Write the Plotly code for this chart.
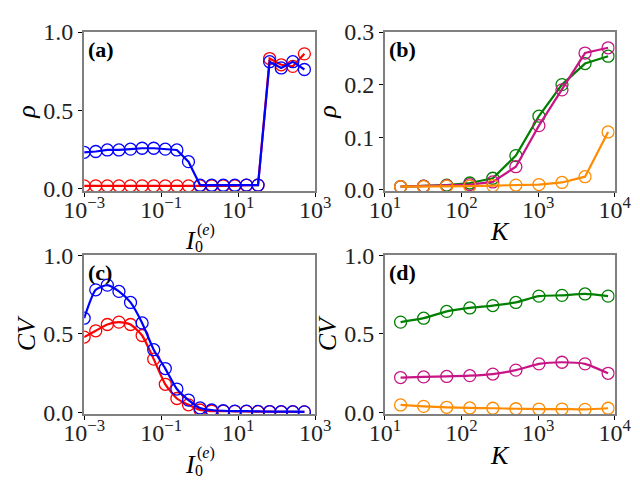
import plotly.graph_objects as go

# --- data ---
# panels (a) and (c): input current, 20 points doubling from 1e-3
I0 = [0.001, 0.002, 0.004, 0.008, 0.016, 0.032, 0.064, 0.128, 0.256, 0.512,
      1.024, 2.048, 4.096, 8.192, 16.384, 32.768, 65.536, 131.072, 262.144, 524.288]

rho_red = [0.015, 0.015, 0.015, 0.015, 0.015, 0.015, 0.015, 0.015, 0.015, 0.015,
           0.015, 0.015, 0.015, 0.015, 0.02, 0.02, 0.83, 0.79, 0.78, 0.86]
rho_blue = [0.23, 0.235, 0.245, 0.245, 0.25, 0.256, 0.256, 0.25, 0.245, 0.17,
            0.02, 0.02, 0.02, 0.02, 0.02, 0.02, 0.81, 0.77, 0.81, 0.76]

cv_red = [0.48, 0.52, 0.56, 0.575, 0.56, 0.49, 0.34, 0.18, 0.09, 0.05,
          0.017, 0.01, 0.01, 0.008, 0.008, 0.006, 0.006, 0.005, 0.005, 0.005]
cv_blue = [0.60, 0.78, 0.81, 0.77, 0.70, 0.57, 0.40, 0.28, 0.15, 0.08,
           0.03, 0.017, 0.012, 0.01, 0.01, 0.008, 0.007, 0.006, 0.006, 0.005]

# panels (b) and (d): K
K = [16, 32, 64, 128, 256, 512, 1024, 2048, 4096, 8192]

rho_green = [0.006, 0.007, 0.009, 0.013, 0.022, 0.065, 0.14, 0.2, 0.24, 0.254]
rho_magenta = [0.006, 0.007, 0.008, 0.01, 0.015, 0.044, 0.122, 0.19, 0.26, 0.27]
rho_orange = [0.006, 0.006, 0.007, 0.007, 0.008, 0.009, 0.01, 0.014, 0.025, 0.11]

cv_green = [0.575, 0.60, 0.643, 0.665, 0.68, 0.70, 0.74, 0.745, 0.754, 0.74]
cv_magenta = [0.223, 0.227, 0.23, 0.235, 0.245, 0.27, 0.31, 0.32, 0.31, 0.25]
cv_orange = [0.049, 0.04, 0.034, 0.03, 0.028, 0.025, 0.023, 0.023, 0.021, 0.028]

RED, BLUE = "#ff0000", "#0000ff"
GREEN, MAGENTA, ORANGE = "#008000", "#c71585", "#ff8c00"
FONT = "Liberation Serif"

fig = go.Figure()


def add(x, y, color, xa, ya, shape="linear"):
    fig.add_trace(go.Scatter(
        x=x, y=y, xaxis=xa, yaxis=ya, mode="lines+markers",
        line=dict(color=color, width=2.2, shape=shape, smoothing=0.6),
        marker=dict(symbol="circle-open", size=12, color=color, line=dict(width=1.3)),
        showlegend=False))


add(I0, rho_red, RED, "x", "y")
add(I0, rho_blue, BLUE, "x", "y")
add(K, rho_green, GREEN, "x2", "y2")
add(K, rho_magenta, MAGENTA, "x2", "y2")
add(K, rho_orange, ORANGE, "x2", "y2")
add(I0, cv_red, RED, "x3", "y3", "spline")
add(I0, cv_blue, BLUE, "x3", "y3", "spline")
add(K, cv_green, GREEN, "x4", "y4", "spline")
add(K, cv_magenta, MAGENTA, "x4", "y4", "spline")
add(K, cv_orange, ORANGE, "x4", "y4", "spline")

axis_common = dict(showline=True, mirror=True, linecolor="#808080", linewidth=2,
                   ticks="outside", tickcolor="black", ticklen=4, tickwidth=1,
                   showgrid=False, zeroline=False,
                   tickfont=dict(family=FONT, size=24, color="#222"),
                   automargin=False)
xaxis_common = dict(axis_common, type="log", ticklabelstandoff=-8)

I_ticks = [1e-3, 1e-1, 1e1, 1e3]
I_text = ["10<sup>−3</sup>", "10<sup>−1</sup>", "10<sup>1</sup>", "10<sup>3</sup>"]
K_ticks = [1e1, 1e2, 1e3, 1e4]
K_text = ["10<sup>1</sup>", "10<sup>2</sup>", "10<sup>3</sup>", "10<sup>4</sup>"]

xdom_l, xdom_r = [0.119, 0.480], [0.589, 0.948]
ydom_t, ydom_b = [0.619, 0.95], [0.154, 0.485]

title_font = dict(family=FONT, size=26, color="black")

fig.update_layout(
    width=640, height=480, margin=dict(l=0, r=0, t=0, b=0),
    paper_bgcolor="white", plot_bgcolor="white",
    xaxis=dict(xaxis_common, range=[-3, 3], domain=xdom_l, anchor="y",
               tickvals=I_ticks, ticktext=I_text),
    yaxis=dict(axis_common, range=[-0.017, 1.0], domain=ydom_t, anchor="x",
               tickvals=[0, 0.5, 1.0], ticktext=["0.0", "0.5", "1.0"],
               title=dict(text="<i>ρ</i>", font=title_font, standoff=0)),
    xaxis2=dict(xaxis_common, range=[1, 4], domain=xdom_r, anchor="y2",
                tickvals=K_ticks, ticktext=K_text),
    yaxis2=dict(axis_common, range=[-0.002, 0.3], domain=ydom_t, anchor="x2",
                tickvals=[0, 0.1, 0.2, 0.3], ticktext=["0.0", "0.1", "0.2", "0.3"],
                title=dict(text="<i>ρ</i>", font=title_font, standoff=0)),
    xaxis3=dict(xaxis_common, range=[-3, 3], domain=xdom_l, anchor="y3",
                tickvals=I_ticks, ticktext=I_text),
    yaxis3=dict(axis_common, range=[-0.009, 1.0], domain=ydom_b, anchor="x3",
                tickvals=[0, 0.5, 1.0], ticktext=["0.0", "0.5", "1.0"],
                title=dict(text="<i>CV</i>", font=title_font, standoff=0)),
    xaxis4=dict(xaxis_common, range=[1, 4], domain=xdom_r, anchor="y4",
                tickvals=K_ticks, ticktext=K_text),
    yaxis4=dict(axis_common, range=[-0.009, 1.0], domain=ydom_b, anchor="x4",
                tickvals=[0, 0.5, 1.0], ticktext=["0.0", "0.5", "1.0"],
                title=dict(text="<i>CV</i>", font=title_font, standoff=0)),
)


def note(text, xa, ya, dx, dy, size, x=0.5, y=0.0, xanchor="center", yanchor="middle"):
    fig.add_annotation(text=text, xref=xa + " domain", yref=ya + " domain",
                       x=x, y=y, xshift=dx, yshift=dy, xanchor=xanchor, yanchor=yanchor,
                       showarrow=False, font=dict(family=FONT, size=size, color="black"))


# x-axis titles (I_0^(e) built with the sub/superscript stacked like the original)
for xa, ya in [("x", "y"), ("x3", "y3")]:
    note("<i>I</i>", xa, ya, -9, -50, 26)
    note("0", xa, ya, -1, -56, 16)
    note("(<i>e</i>)", xa, ya, 6, -39, 16)
for xa, ya in [("x2", "y2"), ("x4", "y4")]:
    note("<i>K</i>", xa, ya, 0, -41, 26)

# panel labels
for label, xa, ya in [("(a)", "x", "y"), ("(b)", "x2", "y2"),
                      ("(c)", "x3", "y3"), ("(d)", "x4", "y4")]:
    note("<b>" + label + "</b>", xa, ya, 0, 0, 22, x=0.01, y=0.98,
         xanchor="left", yanchor="top")

fig.write_html("out.html")
